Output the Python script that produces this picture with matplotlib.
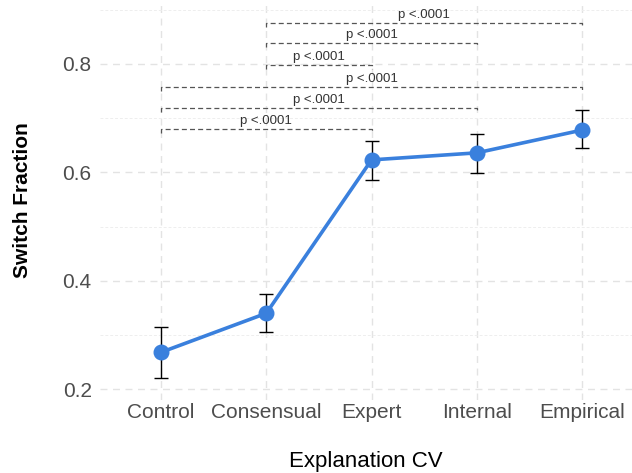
import matplotlib.pyplot as plt
from matplotlib.ticker import MultipleLocator

plt.rcParams['font.family'] = ['Liberation Sans', 'DejaVu Sans']

# data
conditions = ['Control', 'Consensual', 'Expert', 'Internal', 'Empirical']
switch_frac = [0.268, 0.340, 0.623, 0.636, 0.678]
err_low = [0.220, 0.305, 0.586, 0.599, 0.645]
err_high = [0.314, 0.375, 0.658, 0.671, 0.715]

# comparisons (group a, group b, bracket height, label)
pairs = [('Control', 'Expert'), ('Control', 'Internal'), ('Control', 'Empirical'),
         ('Consensual', 'Expert'), ('Consensual', 'Internal'), ('Consensual', 'Empirical')]
bracket_y = [0.680, 0.719, 0.758, 0.798, 0.839, 0.876]
p_labels = ['p <.0001'] * 6

fig = plt.figure(figsize=(6.32, 4.73), dpi=100)
ax = fig.add_axes([100 / 632, 73 / 473, 532 / 632, 400 / 473])

x = list(range(len(conditions)))
yerr = [[m - lo for m, lo in zip(switch_frac, err_low)],
        [hi - m for m, hi in zip(switch_frac, err_high)]]

ax.plot(x, switch_frac, color='#3a80dd', lw=2.6, zorder=3)
ax.errorbar(x, switch_frac, yerr=yerr, fmt='none', ecolor='black',
            elinewidth=1.0, capsize=5, capthick=1.0, zorder=4)
ax.scatter(x, switch_frac, s=110, color='#3a80dd', zorder=5)

tick_h = 0.008
for (a, b), yb, lab in zip(pairs, bracket_y, p_labels):
    xa, xb = conditions.index(a), conditions.index(b)
    ax.plot([xa, xa, xb, xb], [yb - tick_h, yb, yb, yb - tick_h],
            color='#555555', lw=0.9, ls=(0, (4, 2.5)), zorder=2)
    ax.text((xa + xb) / 2, yb + 0.004, lab, ha='center', va='bottom',
            fontsize=9.5, color='#333333')

ax.set_xlim(-0.58, 4.475)
ax.set_ylim(0.18, 0.918)
ax.set_xticks(x)
ax.set_xticklabels(conditions)
ax.yaxis.set_minor_locator(MultipleLocator(0.1))
ax.set_yticks([0.2, 0.4, 0.6, 0.8])

ax.grid(which='major', color='#e3e3e3', ls=(0, (5, 4)), lw=1.0)
ax.grid(which='minor', axis='y', color='#eeeeee', ls=(0, (3, 2)), lw=0.7)
ax.set_axisbelow(True)
for s in ax.spines.values():
    s.set_visible(False)
ax.tick_params(which='both', length=0, labelsize=15, labelcolor='#4d4d4d')
ax.tick_params(axis='x', pad=2)
ax.tick_params(axis='y', pad=6)

ax.set_xlabel('Explanation CV', fontsize=16, labelpad=21)
ax.set_ylabel('Switch Fraction', fontsize=15, fontweight='bold', labelpad=22)

fig.savefig('out.png', dpi=100)
